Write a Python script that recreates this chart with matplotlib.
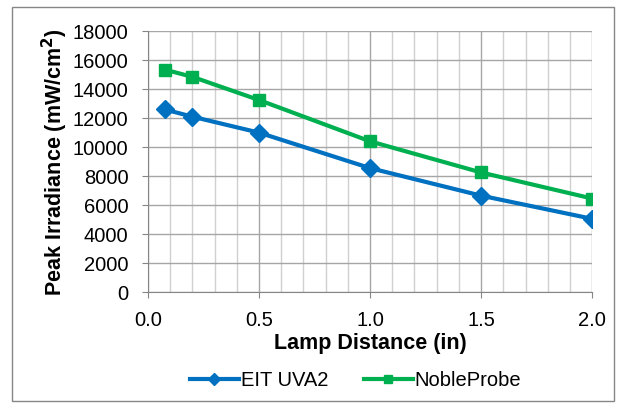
import matplotlib.pyplot as plt
import matplotlib.patches as patches
import numpy as np

plt.rcParams['font.family'] = ['Liberation Sans', 'DejaVu Sans']

# %%
distance = [0.075, 0.2, 0.5, 1.0, 1.5, 2.0]
eit_uva2 = [12600, 12100, 11000, 8550, 6650, 5050]
noble_probe = [15350, 14850, 13250, 10400, 8250, 6450]

x_ticks = [0.0, 0.5, 1.0, 1.5, 2.0]
y_ticks = np.arange(0, 18001, 2000)

# %%
fig = plt.figure(figsize=(6.24, 4.05), dpi=100)
ax = fig.add_axes([0.237, 0.279, 0.712, 0.644])

ax.plot(distance, eit_uva2, '-D', color='#0070C0', lw=3, ms=9, label='EIT UVA2', zorder=3)
ax.plot(distance, noble_probe, '-s', color='#00B050', lw=3, ms=8, label='NobleProbe', zorder=3)

ax.set_xlim(0, 2.0)
ax.set_ylim(0, 18000)
ax.set_xticks(x_ticks)
ax.set_xticklabels([f'{t:.1f}' for t in x_ticks])
ax.set_xticks(np.arange(0, 2.01, 0.1), minor=True)
ax.set_yticks(y_ticks)

ax.grid(True, which='major', color='#a6a6a6', lw=1)
ax.grid(True, which='minor', axis='x', color='#d0d0d0', lw=1)
ax.set_axisbelow(True)
for s in ['top', 'right']:
    ax.spines[s].set_visible(False)
for s in ['left', 'bottom']:
    ax.spines[s].set_color('#868686')
ax.tick_params(which='major', length=4, color='#868686', labelsize=14.5)
ax.tick_params(axis='x', which='major', pad=10)
ax.tick_params(axis='y', which='major', pad=10)
ax.tick_params(which='minor', length=0)

ax.set_xlabel('Lamp Distance (in)', fontsize=15.5, fontweight='bold', labelpad=2)
ax.set_ylabel('Peak Irradiance (mW/cm$^\\mathbf{2}$)', fontsize=15.5, fontweight='bold', labelpad=2)

leg = fig.legend(loc='center', bbox_to_anchor=(0.57, 0.06), ncol=2, frameon=False,
                 fontsize=14.5, handlelength=2.4, handletextpad=0.1, columnspacing=1.8,
                 markerscale=0.7)

fig.patches.append(patches.Rectangle((0.019, 0.01), 0.965, 0.973, transform=fig.transFigure,
                                     fill=False, edgecolor='#868686', lw=1))

fig.savefig('out.png', dpi=100)
